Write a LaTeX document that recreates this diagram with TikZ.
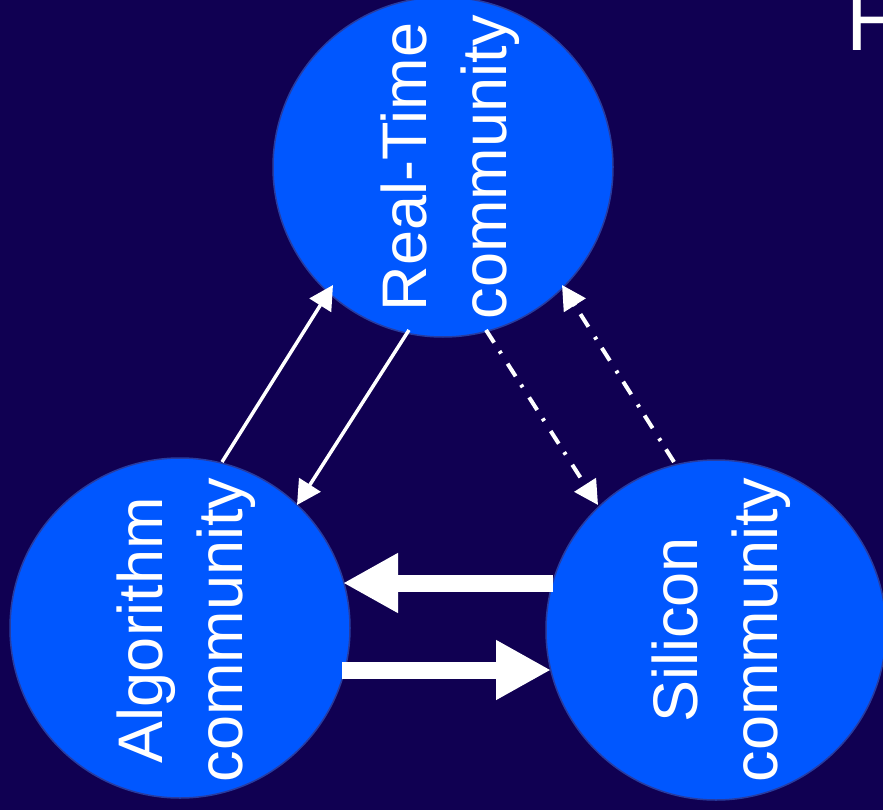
\documentclass[tikz,border=0pt]{standalone}
\usepackage{fontspec}
\setmainfont{Liberation Sans}
\usetikzlibrary{arrows.meta}
\definecolor{bgc}{RGB}{16,0,82}
\definecolor{circfill}{RGB}{0,87,255}
\definecolor{circline}{RGB}{40,60,160}
\tikzset{
  comm/.style={circle, minimum size=340pt, inner sep=0pt, fill=circfill, draw=circline, line width=1.5pt},
  lbl/.style={rotate=90, align=center, text=white, inner sep=0pt, font=\fontsize{63}{80}\selectfont},
  thinarrow/.style={draw=white, line width=3.5pt, -{Triangle[length=24pt,width=25pt]}},
  dasharrow/.style={draw=white, line width=4pt, dash pattern=on 15pt off 10pt on 3pt off 12pt, -{Triangle[length=24pt,width=25pt]}},
  thickarrow/.style={draw=white, line width=17pt, -{Triangle[length=55pt,width=56pt]}}
}
\begin{document}
\begin{tikzpicture}[x=1pt,y=-1pt]
\useasboundingbox (0,0) rectangle (883,810);
\fill[bgc] (0,0) rectangle (883,810);
\clip (0,0) rectangle (883,810);
\node[text=white, font=\fontsize{84}{90}\selectfont, anchor=base west, inner sep=0pt] (title) at (846,51) {H};
\node[comm] (rt) at (443,167) {};
\node[comm] (alg) at (180,628) {};
\node[comm] (sil) at (716,630) {};
\node[lbl] (rtl) at (450,167) {Real-Time\\community};
\node[lbl] (algl) at (186,630) {Algorithm\\community};
\node[lbl] (sill) at (721,630) {Silicon\\community};
\coordinate (a1) at (222,462); \coordinate (a2) at (333,285);
\coordinate (b1) at (409,330); \coordinate (b2) at (297,505);
\coordinate (c1) at (486,330); \coordinate (c2) at (598,505);
\coordinate (d1) at (674,462); \coordinate (d2) at (562,285);
\coordinate (e1) at (553,583); \coordinate (e2) at (343,583);
\coordinate (f1) at (342,670); \coordinate (f2) at (551,670);
\draw[thinarrow] (a1) -- (a2);
\draw[thinarrow] (b1) -- (b2);
\draw[dasharrow] (c1) -- (c2);
\draw[dasharrow] (d1) -- (d2);
\draw[thickarrow] (e1) -- (e2);
\draw[thickarrow] (f1) -- (f2);
\end{tikzpicture}
\end{document}
